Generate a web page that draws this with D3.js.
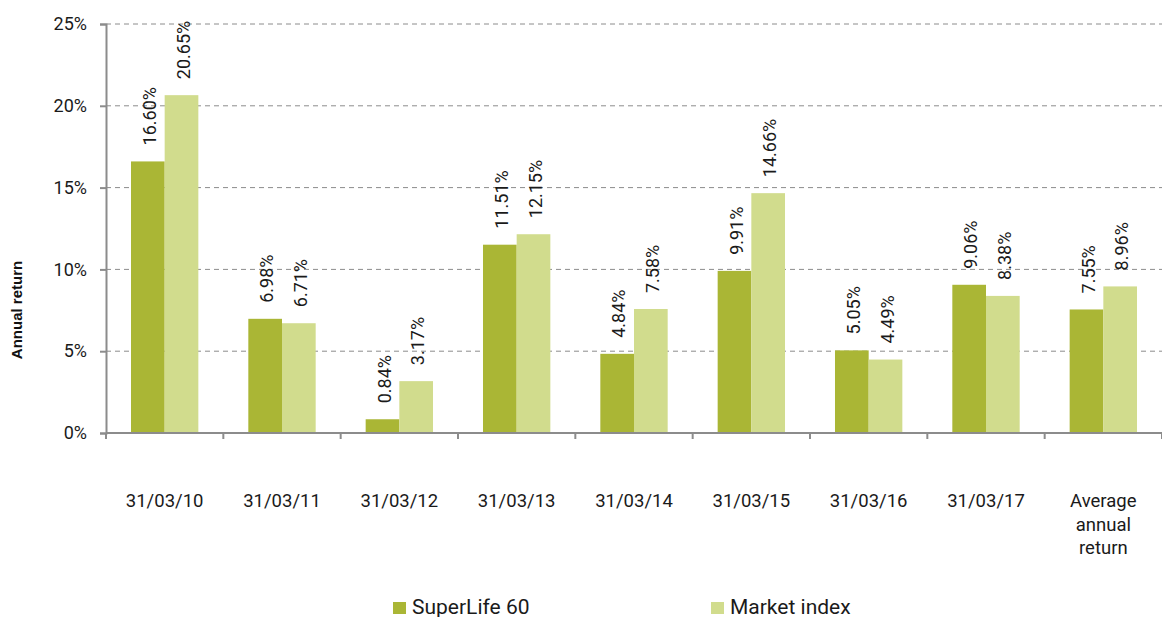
<!DOCTYPE html>
<html>
<head>
<meta charset="utf-8">
<script src="https://cdn.jsdelivr.net/npm/d3@7"></script>
<style>
  body { margin: 0; background: #fff; }
  svg { display: block; font-family: Roboto, "Noto Sans", sans-serif; }
</style>
</head>
<body>
<div id="chart"></div>
<script>
// Data
const categories = ["31/03/10", "31/03/11", "31/03/12", "31/03/13", "31/03/14",
                    "31/03/15", "31/03/16", "31/03/17", "Average annual return"];
const seriesNames = ["SuperLife 60", "Market index"];
const superLife = [16.60, 6.98, 0.84, 11.51, 4.84, 9.91, 5.05, 9.06, 7.55];
const marketIndex = [20.65, 6.71, 3.17, 12.15, 7.58, 14.66, 4.49, 8.38, 8.96];
const yTicks = [0, 5, 10, 15, 20, 25];

const colors = { "SuperLife 60": "#aab635", "Market index": "#d1dc8d" };

const width = 1162, height = 617;
const margin = { top: 24, right: 0, bottom: 184, left: 106 };
const plotW = width - margin.left - margin.right;
const plotH = height - margin.top - margin.bottom;

const svg = d3.select("#chart").append("svg")
    .attr("width", width)
    .attr("height", height);

const g = svg.append("g").attr("transform", `translate(${margin.left},${margin.top})`);

const x0 = d3.scaleBand().domain(categories).range([0, plotW])
    .paddingInner(0.426).paddingOuter(0.213);
const x1 = d3.scaleBand().domain(seriesNames).range([0, x0.bandwidth()]);
const y = d3.scaleLinear().domain([0, 25]).range([plotH, 0]);

// gridlines
g.append("g")
    .selectAll("line")
    .data(yTicks.filter(t => t > 0))
    .join("line")
    .attr("x1", 0).attr("x2", plotW)
    .attr("y1", d => y(d)).attr("y2", d => y(d))
    .attr("stroke", "#8c8c8c")
    .attr("stroke-width", 1)
    .attr("stroke-dasharray", "5,4");

// bars
const rows = categories.map((c, i) => ({ cat: c, values: [
    { key: "SuperLife 60", v: superLife[i] },
    { key: "Market index", v: marketIndex[i] }
]}));

const groups = g.selectAll(".grp").data(rows).join("g")
    .attr("class", "grp")
    .attr("transform", d => `translate(${x0(d.cat)},0)`);

groups.selectAll("rect").data(d => d.values).join("rect")
    .attr("x", d => x1(d.key))
    .attr("y", d => y(d.v))
    .attr("width", x1.bandwidth())
    .attr("height", d => plotH - y(d.v))
    .attr("fill", d => colors[d.key]);

// value labels
groups.selectAll("text").data(d => d.values).join("text")
    .attr("transform", d => `translate(${x1(d.key) + x1.bandwidth() / 2 + 2},${y(d.v) - 16}) rotate(-90)`)
    .attr("dy", "0.35em")
    .attr("text-anchor", "start")
    .attr("fill", "#1a1a1a")
    .style("font-size", "18px")
    .text(d => d.v.toFixed(2) + "%");

// y axis
const yAxis = g.append("g")
    .call(d3.axisLeft(y).tickValues(yTicks).tickSize(6).tickPadding(13).tickFormat(d => d + "%"));
yAxis.select(".domain").attr("stroke", "#8c8c8c").attr("stroke-width", 2);
yAxis.selectAll(".tick line").attr("stroke", "#8c8c8c").attr("stroke-width", 2);
yAxis.selectAll(".tick text").attr("fill", "#1a1a1a").style("font-size", "18px")
    .style("font-family", "Roboto, sans-serif");

// x axis
const xTickPos = d3.range(categories.length + 1).map(i => i * x0.step());
const xAxis = g.append("g").attr("transform", `translate(0,${plotH})`);
xAxis.append("line")
    .attr("x1", 0).attr("x2", plotW)
    .attr("stroke", "#8c8c8c").attr("stroke-width", 2);
xAxis.selectAll(".xt").data(xTickPos).join("line")
    .attr("class", "xt")
    .attr("x1", d => d).attr("x2", d => d)
    .attr("y1", 0).attr("y2", 6)
    .attr("stroke", "#8c8c8c").attr("stroke-width", 2);

const xLabels = xAxis.selectAll(".xl").data(categories).join("text")
    .attr("class", "xl")
    .attr("x", d => x0(d) + x0.bandwidth() / 2)
    .attr("y", 74)
    .attr("text-anchor", "middle")
    .attr("fill", "#1a1a1a")
    .style("font-size", "18.5px");
xLabels.each(function(d) {
    const t = d3.select(this);
    const lines = d === "Average annual return" ? ["Average", "annual", "return"] : [d];
    lines.forEach((ln, i) => {
        t.append("tspan")
            .attr("x", x0(d) + x0.bandwidth() / 2)
            .attr("dy", i === 0 ? 0 : 23.5)
            .text(ln);
    });
});

// y axis title
svg.append("text")
    .attr("transform", "translate(22,310) rotate(-90)")
    .attr("text-anchor", "middle")
    .style("font-family", "'Liberation Sans', Arial, sans-serif")
    .style("font-weight", "bold")
    .style("font-size", "15px")
    .attr("fill", "#111")
    .text("Annual return");

// legend
const legendX = [393, 711];
const legend = svg.selectAll(".lg").data(seriesNames).join("g")
    .attr("class", "lg")
    .attr("transform", (d, i) => `translate(${legendX[i]},602)`);
legend.append("rect")
    .attr("width", 13).attr("height", 12)
    .attr("fill", d => colors[d]);
legend.append("text")
    .attr("x", 19).attr("y", 12)
    .attr("fill", "#1a1a1a")
    .style("font-size", "21px")
    .text(d => d);
</script>
</body>
</html>
